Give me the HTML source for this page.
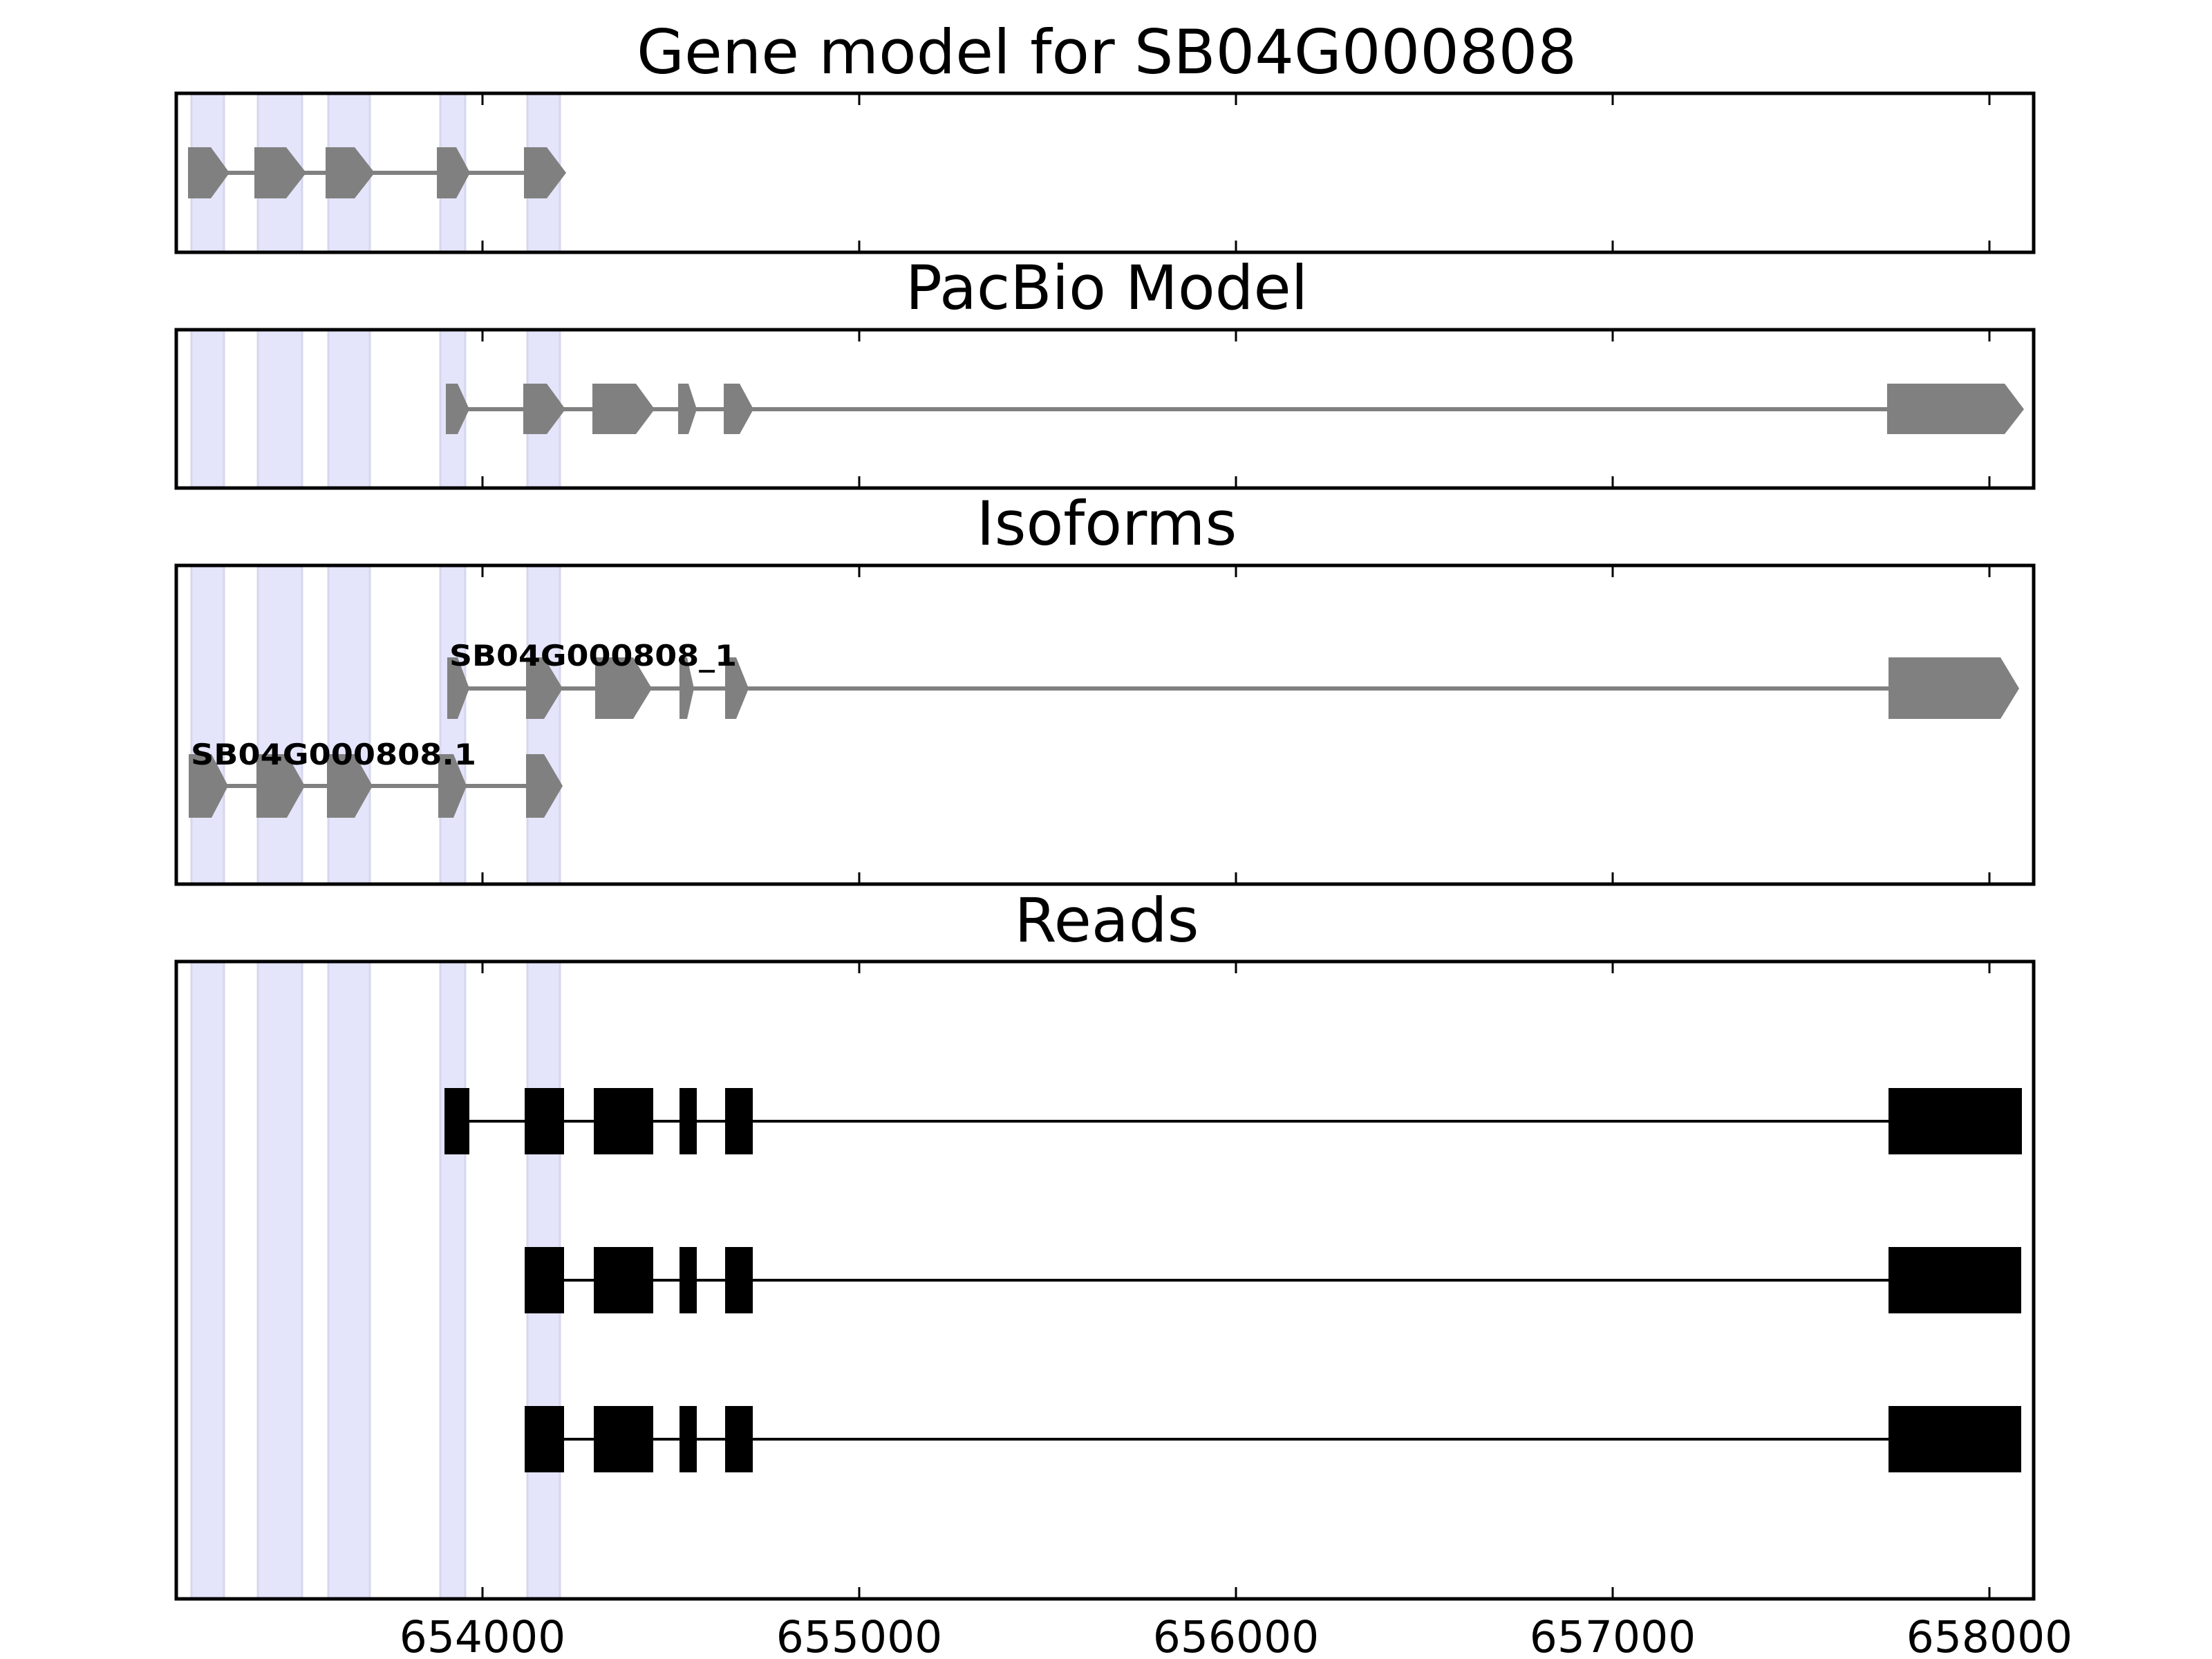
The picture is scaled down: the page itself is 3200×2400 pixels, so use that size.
<!DOCTYPE html>
<html><head><meta charset="utf-8"><style>html,body{margin:0;padding:0;background:#fff}svg{display:block}</style></head>
<body>
<svg width="3200" height="2400" viewBox="0 0 3200 2400" xmlns="http://www.w3.org/2000/svg" font-family="DejaVu Sans, Liberation Sans, sans-serif">
<defs>
<g id="bands">
<rect x="277" y="0" width="47" height="2400" fill="#e4e4fb" stroke="#d6d6ee" stroke-width="3"/>
<rect x="373" y="0" width="64" height="2400" fill="#e4e4fb" stroke="#d6d6ee" stroke-width="3"/>
<rect x="475" y="0" width="60" height="2400" fill="#e4e4fb" stroke="#d6d6ee" stroke-width="3"/>
<rect x="637" y="0" width="36" height="2400" fill="#e4e4fb" stroke="#d6d6ee" stroke-width="3"/>
<rect x="763" y="0" width="47" height="2400" fill="#e4e4fb" stroke="#d6d6ee" stroke-width="3"/>
</g>
<clipPath id="c1"><rect x="255" y="135" width="2687" height="230"/></clipPath>
<clipPath id="c2"><rect x="255" y="477" width="2687" height="229"/></clipPath>
<clipPath id="c3"><rect x="255" y="818" width="2687" height="461"/></clipPath>
<clipPath id="c4"><rect x="255" y="1391" width="2687" height="922"/></clipPath>
</defs>

<g font-size="88" fill="#000" text-anchor="middle">
<text x="1601" y="106" textLength="1360" lengthAdjust="spacingAndGlyphs">Gene model for SB04G000808</text>
<text x="1601" y="447">PacBio Model</text>
<text x="1601" y="788">Isoforms</text>
<text x="1601" y="1362">Reads</text>
</g>

<g clip-path="url(#c1)"><use href="#bands"/>
<line x1="300" y1="250" x2="790" y2="250" stroke="#808080" stroke-width="6"/>
<g fill="#808080">
<polygon points="272,213 305,213 332,250 305,287 272,287"/>
<polygon points="368,213 414,213 443,250 414,287 368,287"/>
<polygon points="471,213 513,213 542,250 513,287 471,287"/>
<polygon points="632,213 660,213 680,250 660,287 632,287"/>
<polygon points="758,213 791,213 819,250 791,287 758,287"/>
</g></g>

<g clip-path="url(#c2)"><use href="#bands"/>
<line x1="660" y1="592" x2="2740" y2="592" stroke="#808080" stroke-width="6"/>
<g fill="#808080">
<polygon points="645,555 662,555 679,592 662,628 645,628"/>
<polygon points="757,555 791,555 818,592 791,628 757,628"/>
<polygon points="857,555 920,555 947,592 920,628 857,628"/>
<polygon points="981,555 996,555 1008,592 996,628 981,628"/>
<polygon points="1047,555 1070,555 1090,592 1070,628 1047,628"/>
<polygon points="2730,555 2900,555 2928,592 2900,628 2730,628"/>
</g></g>

<g clip-path="url(#c3)"><use href="#bands"/>
<line x1="660" y1="996" x2="2740" y2="996" stroke="#808080" stroke-width="6"/>
<line x1="290" y1="1137" x2="780" y2="1137" stroke="#808080" stroke-width="6"/>
<g fill="#808080">
<polygon points="647,951 662,951 679,996 662,1040 647,1040"/>
<polygon points="761,951 787,951 814,996 787,1040 761,1040"/>
<polygon points="861,951 916,951 943,996 916,1040 861,1040"/>
<polygon points="983,951 994,951 1004,996 994,1040 983,1040"/>
<polygon points="1049,951 1065,951 1083,996 1065,1040 1049,1040"/>
<polygon points="2732,951 2894,951 2921,996 2894,1040 2732,1040"/>
<polygon points="273,1091 306,1091 330,1137 306,1183 273,1183"/>
<polygon points="371,1091 415,1091 441,1137 415,1183 371,1183"/>
<polygon points="473,1091 513,1091 539,1137 513,1183 473,1183"/>
<polygon points="634,1091 656,1091 675,1137 656,1183 634,1183"/>
<polygon points="761,1091 787,1091 814,1137 787,1183 761,1183"/>
</g>
<g font-size="42" font-weight="bold" fill="#000">
<text x="650" y="963" textLength="416" lengthAdjust="spacingAndGlyphs">SB04G000808_1</text>
<text x="276" y="1106" textLength="413" lengthAdjust="spacingAndGlyphs">SB04G000808.1</text>
</g></g>

<g clip-path="url(#c4)"><use href="#bands"/>
<g stroke="#000" stroke-width="4">
<line x1="660" y1="1622" x2="2740" y2="1622"/>
<line x1="770" y1="1852" x2="2740" y2="1852"/>
<line x1="770" y1="2082" x2="2740" y2="2082"/>
</g>
<g fill="#000">
<rect x="643" y="1574" width="36" height="96"/>
<rect x="759" y="1574" width="57" height="96"/>
<rect x="859" y="1574" width="86" height="96"/>
<rect x="983" y="1574" width="25" height="96"/>
<rect x="1049" y="1574" width="40" height="96"/>
<rect x="2732" y="1574" width="193" height="96"/>
<rect x="759" y="1804" width="57" height="96"/>
<rect x="859" y="1804" width="86" height="96"/>
<rect x="983" y="1804" width="25" height="96"/>
<rect x="1049" y="1804" width="40" height="96"/>
<rect x="2732" y="1804" width="192" height="96"/>
<rect x="759" y="2034" width="57" height="96"/>
<rect x="859" y="2034" width="86" height="96"/>
<rect x="983" y="2034" width="25" height="96"/>
<rect x="1049" y="2034" width="40" height="96"/>
<rect x="2732" y="2034" width="192" height="96"/>
</g></g>

<g fill="none" stroke="#000" stroke-width="5">
<rect x="255" y="135" width="2687" height="230"/>
<rect x="255" y="477" width="2687" height="229"/>
<rect x="255" y="818" width="2687" height="461"/>
<rect x="255" y="1391" width="2687" height="922"/>
</g>
<g stroke="#000" stroke-width="3">
<path d="M698,135v17M1243,135v17M1788,135v17M2333,135v17M2878,135v17
M698,365v-17M1243,365v-17M1788,365v-17M2333,365v-17M2878,365v-17
M698,477v17M1243,477v17M1788,477v17M2333,477v17M2878,477v17
M698,706v-17M1243,706v-17M1788,706v-17M2333,706v-17M2878,706v-17
M698,818v17M1243,818v17M1788,818v17M2333,818v17M2878,818v17
M698,1279v-17M1243,1279v-17M1788,1279v-17M2333,1279v-17M2878,1279v-17
M698,1391v17M1243,1391v17M1788,1391v17M2333,1391v17M2878,1391v17
M698,2313v-17M1243,2313v-17M1788,2313v-17M2333,2313v-17M2878,2313v-17"/>
</g>
<g font-size="63" fill="#000" text-anchor="middle">
<text x="698" y="2390">654000</text>
<text x="1243" y="2390">655000</text>
<text x="1788" y="2390">656000</text>
<text x="2333" y="2390">657000</text>
<text x="2878" y="2390">658000</text>
</g>
</svg>
</body></html>
